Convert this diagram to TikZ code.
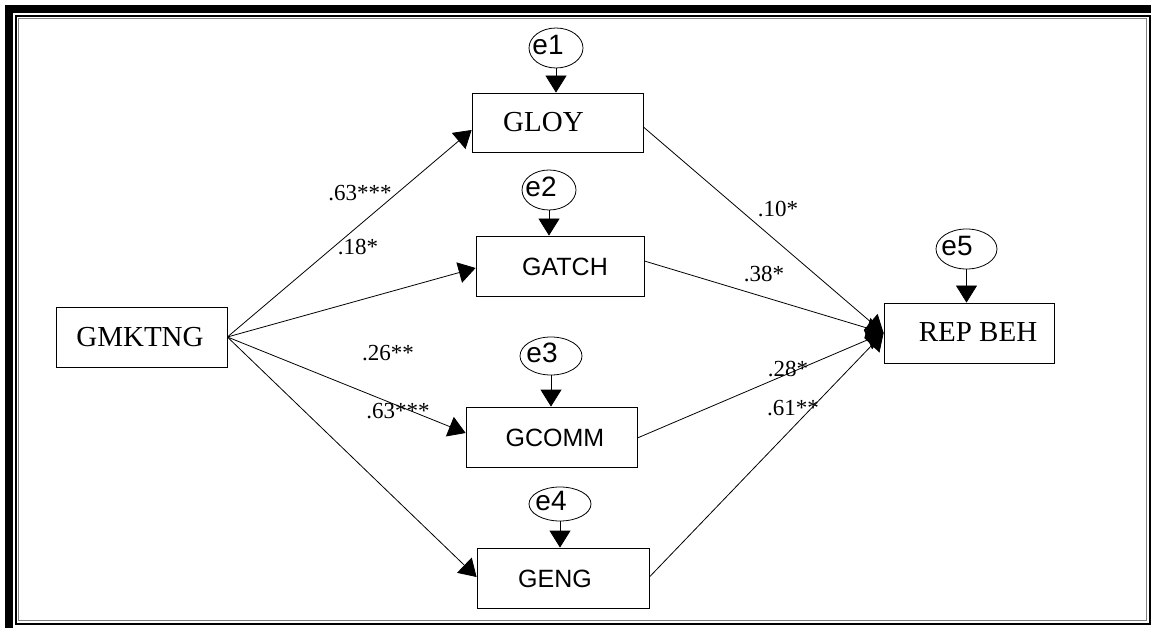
\documentclass[tikz,border=0pt]{standalone}
\usepackage{fontspec}
\setmainfont{Liberation Serif}
\newfontfamily\arialf{Liberation Sans}
\usetikzlibrary{arrows.meta,shapes.geometric,calc}
\begin{document}
\begin{tikzpicture}[x=1pt,y=-1pt,
  box/.style={draw,line width=0.8pt,inner sep=0pt,minimum width=#1,minimum height=60pt},
  err/.style={draw,ellipse,line width=0.8pt,inner sep=0pt},
  serif/.style={inner sep=0pt,font=\fontsize{29}{33}\selectfont},
  sans/.style={inner sep=0pt,font=\arialf\fontsize{25}{29}\selectfont},
  etext/.style={inner sep=0pt,font=\arialf\fontsize{28}{31}\selectfont},
  coef/.style={inner sep=0pt,font=\fontsize{23}{26}\selectfont},
  arr/.style={line width=0.8pt,-{Triangle[length=17pt,width=21pt]}},
  path/.style={line width=0.8pt}]
\useasboundingbox (0,0) rectangle (1151,628);
\fill[white] (0,0) rectangle (1151,628);
% frame
\draw[line width=8pt] (9,9) rectangle (1160,640);
\draw[line width=2pt] (16,16) rectangle (1149.5,623.5);
\draw[line width=1pt,gray] (18.5,18.5) rectangle (1146.5,620.5);
% boxes
\node[box=171pt] (gmktng) at (141.5,337) {};
\node[serif] (gmktngT) at (140,337) {GMKTNG};
\node[box=171pt,minimum height=59pt] (gloy) at (557.5,122.5) {};
\node[serif] (gloyT) at (543.5,122) {GLOY};
\node[box=168pt] (gatch) at (560,266) {};
\node[sans] (gatchT) at (565,267) {GATCH};
\node[box=171pt] (gcomm) at (551.5,437) {};
\node[sans] (gcommT) at (555,438) {GCOMM};
\node[box=172pt] (geng) at (563,578) {};
\node[sans] (gengT) at (555,579) {GENG};
\node[box=170pt] (rep) at (969,333) {};
\node[serif] (repT) at (978,332) {REP BEH};
% error terms
\node[err,minimum width=54pt,minimum height=40pt] (e1) at (556,48) {};
\node[etext] (e1T) at (548,45) {e1};
\node[err,minimum width=54pt,minimum height=40pt] (e2) at (549,190) {};
\node[etext] (e2T) at (541,187) {e2};
\node[err,minimum width=62pt,minimum height=38pt] (e3) at (551,356) {};
\node[etext] (e3T) at (542,353) {e3};
\node[err,minimum width=62pt,minimum height=34pt] (e4) at (560,504) {};
\node[etext] (e4T) at (551,501) {e4};
\node[err,minimum width=61pt,minimum height=40pt] (e5) at (966.5,249) {};
\node[etext] (e5T) at (957,246) {e5};
\draw[arr] (e1.south) -- (e1.south |- gloy.north);
\draw[arr] (e2.south) -- (e2.south |- gatch.north);
\draw[arr] (e3.south) -- (e3.south |- gcomm.north);
\draw[arr] (e4.south) -- (e4.south |- geng.north);
\draw[arr] (e5.south) -- (e5.south |- rep.north);
% paths from GMKTNG
\draw[arr] (gmktng.east) -- ([yshift=-7.5pt]gloy.west);
\draw[arr] (gmktng.east) -- ([yshift=-2pt]gatch.west);
\draw[arr] (gmktng.east) -- ([yshift=4pt]gcomm.west);
\draw[arr] (gmktng.east) -- ([yshift=1pt]geng.west);
% paths to REP BEH
\draw[arr] ([yshift=-4.5pt]gloy.east) -- (rep.west);
\draw[arr] ([yshift=5pt]gatch.east) -- (rep.west);
\draw[arr] ([yshift=-1pt]gcomm.east) -- (rep.west);
\draw[arr] ([yshift=1pt]geng.east) -- (rep.west);
% coefficients
\node[coef] (c1) at (360,193) {.63***};
\node[coef] (c2) at (358,247) {.18*};
\node[coef] (c3) at (388,353) {.26**};
\node[coef] (c4) at (398,411) {.63***};
\node[coef] (c5) at (778,209) {.10*};
\node[coef] (c6) at (764,274) {.38*};
\node[coef] (c7) at (788,369) {.28*};
\node[coef] (c8) at (793,408) {.61**};
\end{tikzpicture}
\end{document}
